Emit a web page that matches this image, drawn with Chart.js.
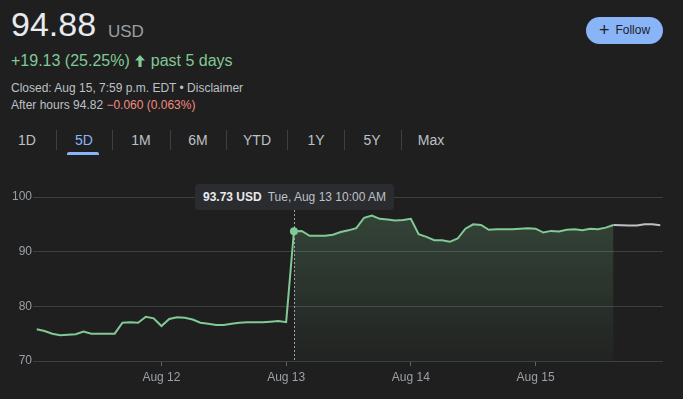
<!DOCTYPE html>
<html>
<head>
<meta charset="utf-8">
<script src="https://cdn.jsdelivr.net/npm/chart.js@4"></script>
<style>
  html, body { margin: 0; padding: 0; background: #1f1f1f; }
  body { width: 683px; height: 399px; position: relative; overflow: hidden; font-family: "Liberation Sans", Arial, sans-serif; }
  .abs { position: absolute; white-space: nowrap; }
  .price { left: 11px; top: 5px; font-size: 34px; color: #e8eaed; }
  .cur { left: 108px; top: 22px; font-size: 17px; color: #9aa0a6; }
  .chg { left: 11px; top: 52px; font-size: 16px; color: #81c995; }
  .chg svg { vertical-align: -1px; margin: 0 6px 0 5px; }
  .info { left: 11px; font-size: 12px; color: #bdc1c6; }
  .neg { color: #f28b82; }
  .tab { top: 132px; font-size: 14px; color: #bdc1c6; transform: translateX(-50%); }
  .tab.on { color: #8ab4f8; }
  .sep { top: 130px; width: 1px; height: 20px; background: #3c4043; }
  .uline { left: 67px; top: 152px; width: 32px; height: 3px; border-radius: 2px 2px 0 0; background: #8ab4f8; }
  .follow { left: 586px; top: 17px; width: 77px; height: 27px; border-radius: 14px; background: #8ab4f8; color: #202124; font-size: 12px; line-height: 27px; text-align: center; }
  .follow b { font-size: 18px; font-weight: normal; vertical-align: -2px; margin-right: 6px; }
  .tip { left: 195px; top: 184px; height: 26px; padding: 0 8px; background: #2b2c2f; border-radius: 4px; font-size: 12px; line-height: 26px; color: #bdc1c6; }
  .tip b { color: #e8eaed; margin-right: 6px; }
  #wrap { position: absolute; left: 0; top: 180px; width: 683px; height: 219px; }
</style>
</head>
<body>
<div class="abs price">94.88</div>
<div class="abs cur">USD</div>
<div class="abs chg">+19.13 (25.25%)<svg width="10" height="12" viewBox="0 0 10 12"><path d="M5 0 L10 5.5 L6.6 5.5 L6.6 12 L3.4 12 L3.4 5.5 L0 5.5 Z" fill="#81c995"/></svg>past 5 days</div>
<div class="abs info" style="top:81px">Closed: Aug 15, 7:59 p.m. EDT • Disclaimer</div>
<div class="abs info" style="top:98px">After hours 94.82 <span class="neg">−0.060 (0.063%)</span></div>

<div class="abs tab" style="left:27px">1D</div>
<div class="abs sep" style="left:56px"></div>
<div class="abs tab on" style="left:84px">5D</div>
<div class="abs sep" style="left:112px"></div>
<div class="abs tab" style="left:141px">1M</div>
<div class="abs sep" style="left:170px"></div>
<div class="abs tab" style="left:198px">6M</div>
<div class="abs sep" style="left:226px"></div>
<div class="abs tab" style="left:257px">YTD</div>
<div class="abs sep" style="left:287px"></div>
<div class="abs tab" style="left:316px">1Y</div>
<div class="abs sep" style="left:344px"></div>
<div class="abs tab" style="left:372px">5Y</div>
<div class="abs sep" style="left:401px"></div>
<div class="abs tab" style="left:431px">Max</div>
<div class="abs uline"></div>

<div class="abs follow"><b>+</b>Follow</div>

<div id="wrap"><canvas id="chart"></canvas></div>
<div class="abs tip"><b>93.73 USD</b>Tue, Aug 13 10:00 AM</div>

<script>
// ====================================
// DATA (one point every 1/16 of a trading day)
// ====================================

const stepsPerDay = 16;

const dayLabels = ["Aug 12", "Aug 13", "Aug 14", "Aug 15"];

const yTicks = [70, 80, 90, 100];

// regular session prices
const prices = [
    75.8, 75.5, 75.0, 74.7, 74.8, 74.9, 75.4, 75.0, 75.0, 75.0,
    75.0, 77.0, 77.1, 77.0, 78.1, 77.8, 76.4, 77.7, 78.0, 77.9,
    77.6, 77.0, 76.8, 76.6, 76.6, 76.8, 77.0, 77.1, 77.1, 77.1,
    77.2, 77.3, 77.1, 93.73, 93.8, 92.9, 92.9, 92.9, 93.1, 93.6,
    93.9, 94.3, 96.2, 96.6, 96.0, 95.9, 95.7, 95.8, 96.0, 93.2,
    92.7, 92.1, 92.1, 91.8, 92.4, 94.2, 95.0, 94.9, 94.0, 94.1,
    94.1, 94.1, 94.2, 94.3, 94.2, 93.5, 93.8, 93.7, 94.0, 94.1,
    93.9, 94.2, 94.1, 94.4, 94.88
];

// after hours prices (start at the close)
const afterHours = [94.88, 94.85, 94.8, 94.8, 95.0, 95.0, 94.82];

const hoverIndex = 33;

// ====================================
// BUILD SERIES
// ====================================

const mainData =
prices.map((v,i)=>({ x: i, y: v }));

const fillData =
prices.map((v,i)=>({ x: i, y: v })).filter(p=>p.x >= hoverIndex);

const afterData =
afterHours.map((v,i)=>({ x: prices.length - 1 + i, y: v }));

const dayTicks =
dayLabels.map((lab,i)=>(i + 1) * stepsPerDay);

// ====================================
// CHART
// ====================================

const green = "#81c995";

const hoverLine = {
    id: "hoverLine",
    afterDatasetsDraw(chart){
        const x = chart.scales.x.getPixelForValue(hoverIndex);
        const y = chart.scales.y.getPixelForValue(prices[hoverIndex]);
        const ctx = chart.ctx;
        ctx.save();
        ctx.strokeStyle = "#9aa0a6";
        ctx.lineWidth = 1;
        ctx.setLineDash([2, 2]);
        ctx.beginPath();
        ctx.moveTo(Math.round(x) + 0.5, 30);
        ctx.lineTo(Math.round(x) + 0.5, chart.chartArea.bottom);
        ctx.stroke();
        ctx.setLineDash([]);
        ctx.fillStyle = green;
        ctx.beginPath();
        ctx.arc(x, y, 4, 0, Math.PI * 2);
        ctx.fill();
        ctx.restore();
    }
};

const ctx = document.getElementById("chart").getContext("2d");

new Chart(ctx, {
    type: "line",
    data: {
        datasets: [
            {
                data: fillData,
                borderWidth: 0,
                pointRadius: 0,
                fill: "start",
                backgroundColor: (c)=>{
                    const area = c.chart.chartArea;
                    if(!area) return "rgba(129,201,149,0.2)";
                    const g = c.chart.ctx.createLinearGradient(0, area.top, 0, area.bottom + 20);
                    g.addColorStop(0, "rgba(129,201,149,0.24)");
                    g.addColorStop(0.5, "rgba(129,201,149,0.12)");
                    g.addColorStop(1, "rgba(129,201,149,0)");
                    return g;
                },
                tension: 0
            },
            {
                data: mainData,
                borderColor: green,
                borderWidth: 2,
                pointRadius: 0,
                fill: false,
                tension: 0
            },
            {
                data: afterData,
                borderColor: "#bdc1c6",
                borderWidth: 2,
                pointRadius: 0,
                fill: false,
                tension: 0
            }
        ]
    },
    options: {
        responsive: true,
        maintainAspectRatio: false,
        animation: false,
        layout: { padding: { top: 17, right: 20, left: 0, bottom: 0 } },
        plugins: {
            legend: { display: false },
            tooltip: { enabled: false }
        },
        scales: {
            x: {
                type: "linear",
                min: -0.48,
                max: prices.length - 1 + afterHours.length - 1 + 0.35,
                afterBuildTicks: (s)=>{ s.ticks = dayTicks.map(v=>({ value: v })); },
                afterFit: (s)=>{ s.height = 38; },
                border: { display: false },
                grid: {
                    drawOnChartArea: false,
                    drawTicks: true,
                    tickLength: 5,
                    color: "#5f6368"
                },
                ticks: {
                    autoSkip: false,
                    maxRotation: 0,
                    padding: 4,
                    color: "#9aa0a6",
                    font: { family: "Liberation Sans, Arial", size: 12 },
                    callback: (v)=>dayLabels[dayTicks.indexOf(v)] || ""
                }
            },
            y: {
                min: 70,
                max: 100,
                afterBuildTicks: (s)=>{ s.ticks = yTicks.map(v=>({ value: v })); },
                afterFit: (s)=>{ s.width = 33; },
                border: { display: false },
                grid: {
                    color: "#3c4043",
                    drawTicks: false
                },
                ticks: {
                    padding: 1,
                    color: "#9aa0a6",
                    font: { family: "Liberation Sans, Arial", size: 12 }
                }
            }
        }
    },
    plugins: [hoverLine]
});
</script>
</body>
</html>
